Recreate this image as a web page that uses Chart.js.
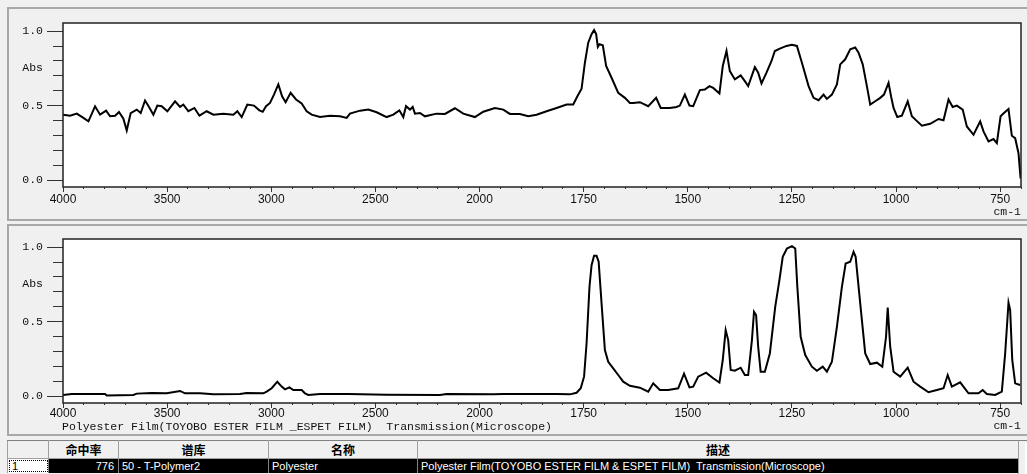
<!DOCTYPE html>
<html>
<head>
<meta charset="utf-8">
<script src="https://cdn.jsdelivr.net/npm/chart.js@4.4.1/dist/chart.umd.min.js"></script>
<style>
  html, body { margin: 0; padding: 0; width: 1027px; height: 474px; overflow: hidden; background: #f0f0f0; }
  .frame { position: absolute; left: 7px; width: 1030px; border: 2px solid #a8a8a8; border-right: none; box-sizing: border-box; }
  canvas { position: absolute; left: 0; }
  #desc { position: absolute; left: 62px; top: 420px; font: 11.5px "Liberation Mono", monospace; line-height: 14px; color: #111; white-space: pre; }
  #hits { position: absolute; left: 7px; top: 440px; border-collapse: collapse; table-layout: fixed; width: 1011px; border-top: 1px solid #808080; border-left: 1px solid #a0a0a0; }
  #hits th { height: 17px; padding: 0; background: #f0f0f0; border-right: 1px solid #a0a0a0; border-bottom: 1px solid #a0a0a0; font: bold 12px "Noto Sans CJK SC", sans-serif; color: #000; text-align: center; line-height: 17px; }
  #hits td { height: 14px; padding: 0 0 0 3px; background: #000; color: #fff; border-right: 1px solid #808080; font: 11px "Liberation Sans", Arial, sans-serif; line-height: 14px; white-space: nowrap; overflow: hidden; }
  #hits td.num { text-align: right; padding: 0 4px 0 0; }
  #hits td.c0 { background: #fff; color: #000; outline: 1px dotted #000; outline-offset: -2px; padding-left: 4px; }
  #sbar { position: absolute; left: 1018px; top: 440px; width: 9px; height: 34px; background: #f0f0f0; border-left: 1px solid #a0a0a0; border-top: 1px solid #808080; }
  #sbar div { position: absolute; left: 6px; top: 2px; width: 3px; height: 32px; background: #fff; }
</style>
</head>
<body>
<div class="frame" style="top:7px;height:214px"></div>
<div class="frame" style="top:224px;height:212px"></div>
<canvas id="top" width="1027" height="220" style="top:0"></canvas>
<canvas id="ref" width="1027" height="215" style="top:222px"></canvas>
<div id="desc">Polyester Film(TOYOBO ESTER FILM _ESPET FILM)  Transmission(Microscope)</div>
<table id="hits">
  <colgroup><col style="width:41px"><col style="width:70px"><col style="width:150px"><col style="width:149px"><col style="width:601px"></colgroup>
  <tr><th></th><th>命中率</th><th>谱库</th><th>名称</th><th>描述</th></tr>
  <tr><td class="c0">1</td><td class="num">776</td><td>50 - T-Polymer2</td><td>Polyester</td><td>Polyester Film(TOYOBO ESTER FILM &amp; ESPET FILM)&nbsp; Transmission(Microscope)</td></tr>
</table>
<div id="sbar"><div></div></div>
<script>
// measured sample spectrum (wavenumber cm-1 / absorbance)
var wnTop = [4000, 3966, 3934, 3902, 3878, 3846, 3822, 3793, 3774, 3750, 3731, 3710, 3694, 3675, 3646, 3627,
  3606, 3587, 3566, 3547, 3526, 3499, 3462, 3438, 3422, 3398, 3369, 3345, 3310, 3278, 3230, 3182, 3163, 3142,
  3115, 3083, 3057, 3041, 3025, 3006, 2987, 2966, 2948, 2931, 2907, 2881, 2854, 2830, 2806, 2766, 2718, 2670,
  2638, 2622, 2574, 2534, 2494, 2446, 2414, 2385, 2366, 2353, 2334, 2321, 2310, 2286, 2262, 2206, 2166, 2118,
  2078, 2022, 1991, 1963, 1943, 1927, 1903, 1883, 1863, 1839, 1815, 1791, 1775, 1765, 1755, 1747, 1739, 1731,
  1725, 1720, 1716, 1712, 1704, 1696, 1683, 1667, 1651, 1639, 1631, 1615, 1595, 1576, 1565, 1543, 1527, 1519,
  1507, 1496, 1487, 1471, 1459, 1448, 1439, 1424, 1416, 1407, 1399, 1387, 1373, 1363, 1355, 1339, 1331, 1323,
  1311, 1299, 1291, 1279, 1263, 1250, 1238, 1226, 1210, 1198, 1186, 1174, 1166, 1154, 1142, 1134, 1122, 1110,
  1098, 1090, 1080, 1070, 1062, 1050, 1038, 1029, 1018, 1012, 1006, 997, 986, 972, 962, 949, 938, 918, 898,
  886, 874, 864, 854, 840, 830, 814, 798, 790, 778, 766, 758, 749, 741, 730, 722, 714, 706, 701];
var absTop = [0.439, 0.432, 0.446, 0.417, 0.394, 0.495, 0.439, 0.466, 0.428, 0.432, 0.457, 0.412, 0.333, 0.450,
  0.473, 0.450, 0.534, 0.491, 0.439, 0.500, 0.496, 0.462, 0.529, 0.491, 0.507, 0.462, 0.484, 0.432, 0.462,
  0.439, 0.446, 0.439, 0.462, 0.423, 0.507, 0.500, 0.468, 0.459, 0.496, 0.518, 0.574, 0.642, 0.563, 0.523,
  0.586, 0.541, 0.514, 0.462, 0.439, 0.423, 0.432, 0.428, 0.417, 0.446, 0.466, 0.473, 0.455, 0.423, 0.439,
  0.468, 0.423, 0.496, 0.473, 0.491, 0.446, 0.450, 0.428, 0.446, 0.444, 0.482, 0.446, 0.423, 0.459, 0.484,
  0.473, 0.444, 0.444, 0.428, 0.439, 0.462, 0.484, 0.507, 0.507, 0.563, 0.613, 0.788, 0.923, 0.980, 1.007,
  0.980, 0.894, 0.912, 0.905, 0.766, 0.687, 0.586, 0.552, 0.518, 0.518, 0.523, 0.496, 0.552, 0.484, 0.484,
  0.491, 0.500, 0.574, 0.500, 0.496, 0.604, 0.608, 0.631, 0.619, 0.581, 0.766, 0.867, 0.732, 0.676, 0.703,
  0.664, 0.631, 0.759, 0.721, 0.649, 0.721, 0.800, 0.867, 0.883, 0.901, 0.908, 0.901, 0.788, 0.631, 0.552,
  0.536, 0.574, 0.545, 0.574, 0.642, 0.777, 0.811, 0.878, 0.890, 0.856, 0.777, 0.631, 0.507, 0.529, 0.552,
  0.574, 0.653, 0.563, 0.484, 0.423, 0.432, 0.529, 0.428, 0.394, 0.365, 0.378, 0.410, 0.401, 0.541, 0.491,
  0.500, 0.473, 0.360, 0.304, 0.394, 0.327, 0.259, 0.275, 0.248, 0.428, 0.450, 0.477, 0.297, 0.281, 0.180, 0.010];

// library spectrum: Polyester Film
var wnRef = [4000, 3958, 3798, 3790, 3662, 3646, 3574, 3502, 3438, 3414, 3342, 3278, 3150, 3118, 3038, 3022,
  2998, 2971, 2950, 2934, 2913, 2894, 2854, 2838, 2822, 2766, 2630, 2446, 2190, 2158, 1967, 1943, 1847, 1815,
  1783, 1767, 1757, 1749, 1743, 1736, 1731, 1725, 1719, 1714, 1707, 1699, 1691, 1679, 1667, 1655, 1639, 1615,
  1595, 1583, 1567, 1547, 1523, 1509, 1496, 1487, 1475, 1456, 1439, 1424, 1416, 1409, 1403, 1397, 1387, 1373,
  1363, 1355, 1346, 1341, 1336, 1331, 1325, 1315, 1303, 1290, 1280, 1272, 1262, 1250, 1242, 1237, 1229, 1218,
  1202, 1190, 1176, 1166, 1154, 1142, 1130, 1121, 1110, 1102, 1097, 1086, 1074, 1062, 1046, 1033, 1024, 1020,
  1014, 1006, 990, 972, 958, 942, 922, 902, 886, 876, 866, 846, 826, 802, 792, 782, 762, 746, 738, 730, 726,
  721, 714, 702];
var absRef = [0.007, 0.013, 0.013, 0.004, 0.007, 0.016, 0.020, 0.018, 0.034, 0.018, 0.018, 0.011, 0.013, 0.020,
  0.018, 0.029, 0.052, 0.096, 0.063, 0.045, 0.058, 0.040, 0.040, 0.018, 0.007, 0.013, 0.013, 0.009, 0.007,
  0.013, 0.011, 0.013, 0.013, 0.013, 0.011, 0.022, 0.052, 0.130, 0.353, 0.734, 0.879, 0.942, 0.942, 0.902,
  0.622, 0.309, 0.230, 0.186, 0.141, 0.096, 0.069, 0.056, 0.029, 0.085, 0.040, 0.040, 0.052, 0.150, 0.058,
  0.063, 0.130, 0.157, 0.119, 0.090, 0.242, 0.443, 0.376, 0.175, 0.170, 0.190, 0.141, 0.141, 0.376, 0.566,
  0.544, 0.331, 0.163, 0.163, 0.286, 0.600, 0.779, 0.935, 0.991, 1.007, 0.991, 0.734, 0.398, 0.275, 0.197,
  0.170, 0.197, 0.163, 0.230, 0.465, 0.734, 0.890, 0.902, 0.969, 0.935, 0.622, 0.286, 0.215, 0.224, 0.197,
  0.398, 0.595, 0.331, 0.163, 0.130, 0.190, 0.096, 0.063, 0.025, 0.040, 0.052, 0.141, 0.063, 0.092, 0.018,
  0.018, 0.040, 0.013, 0.007, 0.029, 0.286, 0.627, 0.577, 0.242, 0.085, 0.074];

var xTickLabels = [4000, 3500, 3000, 2500, 2000, 1750, 1500, 1250, 1000, 750];
var yTickValues = [0.0, 0.5, 0.75, 1.0];
var yTickLabels = ['0.0', '0.5', 'Abs', '1.0'];

// the x axis is compressed 2:1 above 2000 cm-1
function toU(w) {
  return w >= 2000 ? (4000 - w) / 2 : 1000 + (2000 - w);
}

var monoFont = { family: 'Liberation Mono', size: 11.5 };

var boxPlugin = {
  id: 'box',
  beforeDraw: function (chart) {
    var a = chart.chartArea, c = chart.ctx;
    c.save();
    c.fillStyle = '#fff';
    c.fillRect(a.left, a.top, a.right - a.left, a.bottom - a.top);
    c.restore();
  },
  afterDraw: function (chart) {
    var a = chart.chartArea, c = chart.ctx;
    c.save();
    c.strokeStyle = '#222';
    c.lineWidth = 1.5;
    c.strokeRect(a.left, a.top, a.right - a.left, a.bottom - a.top);
    c.restore();
  }
};

function makeChart(id, wn, ab, opt) {
  var pts = wn.map(function (w, i) { return { x: toU(w), y: ab[i] }; });
  return new Chart(document.getElementById(id), {
    type: 'line',
    data: {
      datasets: [{
        data: pts,
        borderColor: '#000',
        borderWidth: 2,
        pointRadius: 0,
        tension: 0,
        fill: false
      }]
    },
    options: {
      responsive: false,
      animation: false,
      events: [],
      layout: { padding: { top: opt.top, right: 6, left: 0, bottom: 0 } },
      plugins: { legend: { display: false }, tooltip: { enabled: false } },
      scales: {
        x: {
          type: 'linear', position: 'bottom', min: 0, max: 2300, weight: 1,
          afterFit: function (s) { s.height = opt.xh; },
          afterBuildTicks: function (s) {
            s.ticks = xTickLabels.map(function (w) { return { value: toU(w) }; });
          },
          ticks: {
            autoSkip: false, maxRotation: 0, padding: opt.xpad, color: '#111',
            font: { family: 'Liberation Sans', size: 12, lineHeight: 1 },
            callback: function (v, i) { return String(xTickLabels[i]); }
          },
          grid: { drawOnChartArea: false, tickLength: 5, tickColor: '#333' },
          border: { display: false },
          title: {
            display: true, text: 'cm-1', align: 'end', color: '#111', font: monoFont,
            padding: { top: 0, bottom: opt.tpad }
          }
        },
        x2: {
          type: 'linear', position: 'bottom', min: 0, max: 2300, weight: 0,
          afterFit: function (s) { s.height = 0; },
          afterBuildTicks: function (s) {
            var t = [];
            for (var u = 0; u <= 2300; u += 50) t.push({ value: u });
            s.ticks = t;
          },
          ticks: { display: false },
          grid: { drawOnChartArea: false, tickLength: 2, tickColor: '#333' },
          border: { display: false }
        },
        y: {
          type: 'linear', position: 'left', min: -0.047, max: 1.055, weight: 1,
          afterFit: function (s) { s.width = 63; },
          afterBuildTicks: function (s) {
            s.ticks = yTickValues.map(function (v) { return { value: v }; });
          },
          ticks: {
            padding: 4, color: '#111', font: monoFont,
            callback: function (v, i) { return yTickLabels[i]; }
          },
          grid: {
            drawOnChartArea: false, tickLength: 16,
            tickColor: function (ctx) { return ctx.tick && ctx.tick.value === 0.75 ? 'rgba(0,0,0,0)' : '#333'; }
          },
          border: { display: false }
        },
        y2: {
          type: 'linear', position: 'left', min: -0.047, max: 1.055, weight: 0,
          afterFit: function (s) { s.width = 0; },
          afterBuildTicks: function (s) {
            var t = [];
            for (var i = 0; i <= 10; i++) t.push({ value: i / 10 });
            s.ticks = t;
          },
          ticks: { display: false },
          grid: { drawOnChartArea: false, tickLength: 10, tickColor: '#333' },
          border: { display: false }
        }
      }
    },
    plugins: [boxPlugin]
  });
}

makeChart('top', wnTop, absTop, { top: 23, xh: 33, xpad: 2, tpad: 1 });
makeChart('ref', wnRef, absRef, { top: 17, xh: 34, xpad: 0, tpad: 4 });
</script>
</body>
</html>
